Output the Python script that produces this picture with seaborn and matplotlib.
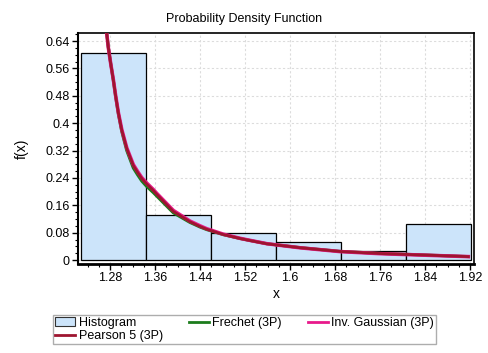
import numpy as np
import pandas as pd
import matplotlib
matplotlib.use('Agg')
import matplotlib.pyplot as plt
from matplotlib.ticker import MultipleLocator, FixedLocator
from matplotlib.patches import Patch
from matplotlib.lines import Line2D
import seaborn as sns

plt.rcParams['font.family'] = ['Liberation Sans', 'DejaVu Sans']
plt.rcParams['font.size'] = 9

# --- data ---
bin_edges = [1.229, 1.344, 1.459, 1.575, 1.690, 1.806, 1.921]
bar_heights = [0.606, 0.1305, 0.078, 0.0517, 0.026, 0.104]

curve_x = [1.2700, 1.2741, 1.2770, 1.2812, 1.2859, 1.2901, 1.2948, 1.3008,
           1.3097, 1.3214, 1.3290, 1.3364, 1.3452, 1.357, 1.363, 1.3925, 1.422,
           1.44, 1.4519, 1.4814, 1.5111, 1.5289, 1.5586, 1.6178, 1.689,
           1.76, 1.849, 1.917]
pearson5_y = [0.700, 0.662, 0.620, 0.574, 0.526, 0.478, 0.430, 0.380,
              0.326, 0.276, 0.256, 0.238, 0.222, 0.203, 0.192, 0.142, 0.112,
              0.098, 0.090, 0.0745, 0.063, 0.057, 0.0475, 0.036, 0.0250,
              0.0190, 0.0140, 0.0100]
inv_gauss_y = [0.700, 0.662, 0.620, 0.574, 0.527, 0.479, 0.431, 0.382,
               0.328, 0.279, 0.259, 0.241, 0.225, 0.206, 0.195, 0.145, 0.114,
               0.100, 0.0915, 0.0755, 0.0635, 0.0575, 0.0478, 0.0358, 0.0247,
               0.0186, 0.0137, 0.0100]
frechet_y = [0.702, 0.664, 0.621, 0.574, 0.525, 0.476, 0.427, 0.376,
             0.320, 0.269, 0.249, 0.231, 0.215, 0.197, 0.187, 0.138, 0.110,
             0.0965, 0.0890, 0.0742, 0.0630, 0.0572, 0.0478, 0.0363, 0.0253,
             0.0193, 0.0142, 0.0101]

x_ticks = [1.28, 1.36, 1.44, 1.52, 1.6, 1.68, 1.76, 1.84, 1.92]
y_ticks = [0, 0.08, 0.16, 0.24, 0.32, 0.4, 0.48, 0.56, 0.64]

bin_centers = [(a + b) / 2 for a, b in zip(bin_edges[:-1], bin_edges[1:])]
hist_df = pd.DataFrame({'x': bin_centers, 'h': bar_heights})

BAR_COLOR = '#CCE4FA'
FRECHET = '#1C7C1C'
INVGAUSS = '#E8198B'
PEARSON = '#9E1530'

fig = plt.figure(figsize=(4.89, 3.53), dpi=100)
ax = fig.add_axes([0.159, 0.252, 0.811, 0.655])

sns.histplot(data=hist_df, x='x', weights='h', bins=bin_edges, stat='count',
             color=BAR_COLOR, alpha=1, edgecolor='black', linewidth=0.9, ax=ax, zorder=2)
sns.lineplot(x=curve_x, y=frechet_y, color=FRECHET, lw=2.2, ax=ax, zorder=3)
sns.lineplot(x=curve_x, y=inv_gauss_y, color=INVGAUSS, lw=2.6, ax=ax, zorder=4)
sns.lineplot(x=curve_x, y=pearson5_y, color=PEARSON, lw=2.0, ax=ax, zorder=5)

ax.set_xlim(1.2226, 1.9276)
ax.set_ylim(-0.0117, 0.664)
ax.xaxis.set_major_locator(FixedLocator(x_ticks))
ax.yaxis.set_major_locator(FixedLocator(y_ticks))
ax.set_xticklabels([f'{v:g}' for v in x_ticks])
ax.set_yticklabels([f'{v:g}' for v in y_ticks])
ax.xaxis.set_minor_locator(MultipleLocator(0.02))
ax.yaxis.set_minor_locator(MultipleLocator(0.02))
ax.tick_params(which='major', direction='out', length=4, width=1, labelsize=9, pad=2)
ax.tick_params(which='minor', direction='out', length=2, width=0.8)
ax.grid(True, which='major', color='#DCDCDC', linestyle=(0, (2, 2)), linewidth=0.8, zorder=0)
ax.set_axisbelow(True)
for s in ax.spines.values():
    s.set_linewidth(1.2)
    s.set_color('black')
ax.spines['bottom'].set_linewidth(2)
ax.spines['left'].set_linewidth(1.5)

ax.set_xlabel('x', fontsize=10, labelpad=2)
ax.set_ylabel('f(x)', fontsize=10, labelpad=12)
fig.suptitle('Probability Density Function', fontsize=9, y=1 - 19 / 353, va='center')

handles = [
    Patch(facecolor=BAR_COLOR, edgecolor='#333333', linewidth=0.8),
    Line2D([], [], color=PEARSON, lw=2),
    Line2D([], [], color=FRECHET, lw=2),
    Line2D([], [], color=INVGAUSS, lw=2),
]
labels = ['Histogram', 'Pearson 5 (3P)', 'Frechet (3P)', 'Inv. Gaussian (3P)']
leg = fig.legend(handles, labels, ncol=3, loc='lower left',
                 bbox_to_anchor=(53 / 489, 1 - 344 / 353, 383 / 489, 32 / 353),
                 mode='expand', frameon=True, fancybox=False, borderaxespad=0,
                 handlelength=1.6, handletextpad=0.3, borderpad=0.15,
                 labelspacing=0.1, columnspacing=1.0, fontsize=9)
leg.get_frame().set_edgecolor('#999999')
leg.get_frame().set_linewidth(1)

fig.savefig('out.png', dpi=100)
